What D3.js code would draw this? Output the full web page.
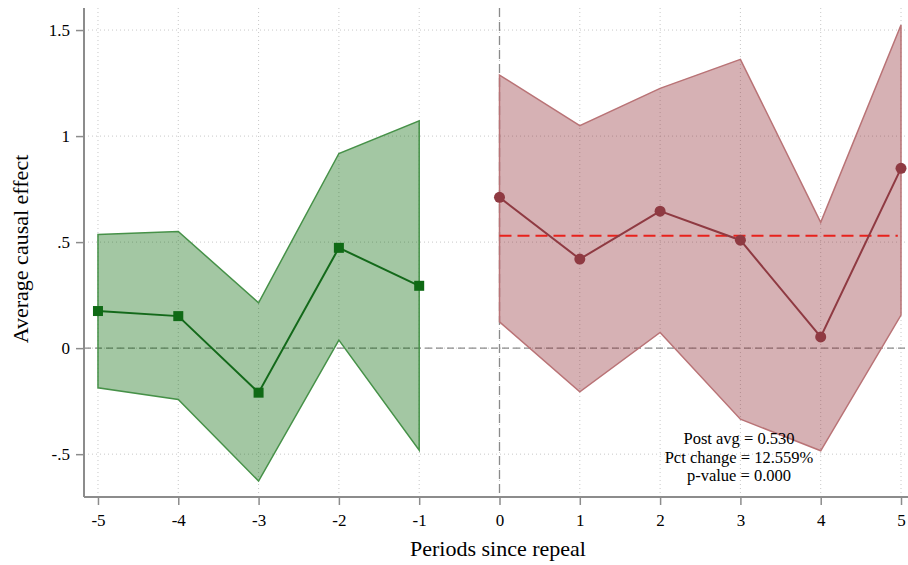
<!DOCTYPE html>
<html>
<head>
<meta charset="utf-8">
<script src="https://cdn.jsdelivr.net/npm/d3@7"></script>
<style>
  html, body { margin: 0; padding: 0; background: #fff; }
  svg, svg text { font-family: "Liberation Serif", "Times New Roman", serif; }
  svg { display: block; }
</style>
</head>
<body>
<svg id="chart" width="908" height="565"></svg>
<script>
// Event-study estimates: pre-period (placebo) and post-repeal effects
const prePeriods  = [-5, -4, -3, -2, -1];
const preEst      = [0.175, 0.151, -0.210, 0.473, 0.294];
const preLo       = [-0.187, -0.242, -0.627, 0.038, -0.481];
const preHi       = [0.536, 0.550, 0.214, 0.918, 1.072];

const postPeriods = [0, 1, 2, 3, 4, 5];
const postEst     = [0.711, 0.420, 0.646, 0.509, 0.053, 0.848];
const postLo      = [0.124, -0.206, 0.074, -0.335, -0.484, 0.156];
const postHi      = [1.288, 1.049, 1.225, 1.362, 0.593, 1.524];

const postAvg     = 0.530;
const statLines   = ["Post avg = 0.530", "Pct change = 12.559%", "p-value = 0.000"];

const xTicks      = [-5, -4, -3, -2, -1, 0, 1, 2, 3, 4, 5];
const xTickLabels = ["-5", "-4", "-3", "-2", "-1", "0", "1", "2", "3", "4", "5"];
const yTicks      = [-0.5, 0, 0.5, 1, 1.5];
const yTickLabels = ["-.5", "0", ".5", "1", "1.5"];

const svg = d3.select("#chart");
const plotL = 84, plotR = 908, plotT = 8, plotB = 497;

const x = d3.scaleLinear().domain([-5.174, 5.087]).range([plotL, plotR]);
const y = d3.scaleLinear().domain([-0.702, 1.604]).range([plotB, plotT]);

// dotted grid
const grid = svg.append("g");
grid.selectAll("line.gy").data(yTicks).join("line")
  .attr("x1", plotL).attr("x2", plotR)
  .attr("y1", d => y(d)).attr("y2", d => y(d))
  .attr("stroke", "#c8c8c8").attr("stroke-width", 1).attr("stroke-dasharray", "1,3");
grid.selectAll("line.gx").data(xTicks).join("line")
  .attr("x1", d => x(d)).attr("x2", d => x(d))
  .attr("y1", plotT).attr("y2", plotB)
  .attr("stroke", "#c8c8c8").attr("stroke-width", 1).attr("stroke-dasharray", "1,3");

// zero line and treatment onset
svg.append("line")
  .attr("x1", plotL).attr("x2", plotR).attr("y1", y(0)).attr("y2", y(0))
  .attr("stroke", "#8a8a8a").attr("stroke-width", 1.3).attr("stroke-dasharray", "7,4");
svg.append("line")
  .attr("x1", x(0)).attr("x2", x(0)).attr("y1", plotT).attr("y2", plotB)
  .attr("stroke", "#8a8a8a").attr("stroke-width", 1.3).attr("stroke-dasharray", "9,5");

const pre = prePeriods.map((p, i) => ({ p, est: preEst[i], lo: preLo[i], hi: preHi[i] }));
const post = postPeriods.map((p, i) => ({ p, est: postEst[i], lo: postLo[i], hi: postHi[i] }));

const band = d3.area().x(d => x(d.p)).y0(d => y(d.lo)).y1(d => y(d.hi));
const line = d3.line().x(d => x(d.p)).y(d => y(d.est));

// confidence bands
svg.append("path").datum(pre).attr("d", band)
  .attr("fill", "rgb(0,100,0)").attr("fill-opacity", 0.36)
  .attr("stroke", "rgb(70,145,72)").attr("stroke-width", 1.5).attr("stroke-linejoin", "miter");
svg.append("path").datum(post).attr("d", band)
  .attr("fill", "rgb(140,40,46)").attr("fill-opacity", 0.36)
  .attr("stroke", "rgb(185,115,118)").attr("stroke-width", 1.5).attr("stroke-linejoin", "miter");

// post-period average
svg.append("line")
  .attr("x1", x(0)).attr("x2", x(4.96)).attr("y1", y(postAvg)).attr("y2", y(postAvg))
  .attr("stroke", "#e8221c").attr("stroke-width", 2).attr("stroke-dasharray", "12,6");

// point estimates
svg.append("path").datum(pre).attr("d", line)
  .attr("fill", "none").attr("stroke", "#13691a").attr("stroke-width", 2);
svg.selectAll("rect.m").data(pre).join("rect")
  .attr("x", d => x(d.p) - 5).attr("y", d => y(d.est) - 5)
  .attr("width", 10).attr("height", 10).attr("fill", "#0f6a15");

svg.append("path").datum(post).attr("d", line)
  .attr("fill", "none").attr("stroke", "#8f3a42").attr("stroke-width", 2);
svg.selectAll("circle.m").data(post).join("circle")
  .attr("cx", d => x(d.p)).attr("cy", d => y(d.est)).attr("r", 5.5)
  .attr("fill", "#8f3a42");

// axes
const axisColor = "#8c8c8c";
const yAxis = svg.append("g").attr("transform", `translate(${plotL},0)`)
  .call(d3.axisLeft(y).tickValues(yTicks).tickFormat((d, i) => yTickLabels[i]).tickSize(8).tickPadding(6));
const xAxis = svg.append("g").attr("transform", `translate(0,${plotB})`)
  .call(d3.axisBottom(x).tickValues(xTicks).tickFormat((d, i) => xTickLabels[i]).tickSize(8).tickPadding(9));
[yAxis, xAxis].forEach(g => {
  g.attr("font-family", null).attr("font-size", null);
  g.select(".domain").attr("stroke", axisColor).attr("stroke-width", 2);
  g.selectAll(".tick line").attr("stroke", axisColor).attr("stroke-width", 1.5);
  g.selectAll(".tick text").attr("fill", "#000").style("font-size", "17px");
});
yAxis.select(".domain").attr("d", `M0,${plotT}V${plotB}`);
xAxis.select(".domain").attr("d", `M${plotL},0H${plotR}`);

// axis titles
svg.append("text")
  .attr("x", 498).attr("y", 556).attr("text-anchor", "middle")
  .style("font-size", "22px").text("Periods since repeal");
svg.append("text")
  .attr("transform", "translate(28,249) rotate(-90)").attr("text-anchor", "middle")
  .style("font-size", "22px").text("Average causal effect");

// summary statistics
svg.append("g").selectAll("text").data(statLines).join("text")
  .attr("x", 739).attr("y", (d, i) => 444 + i * 18.5)
  .attr("text-anchor", "middle").style("font-size", "16.5px").text(d => d);
</script>
</body>
</html>
